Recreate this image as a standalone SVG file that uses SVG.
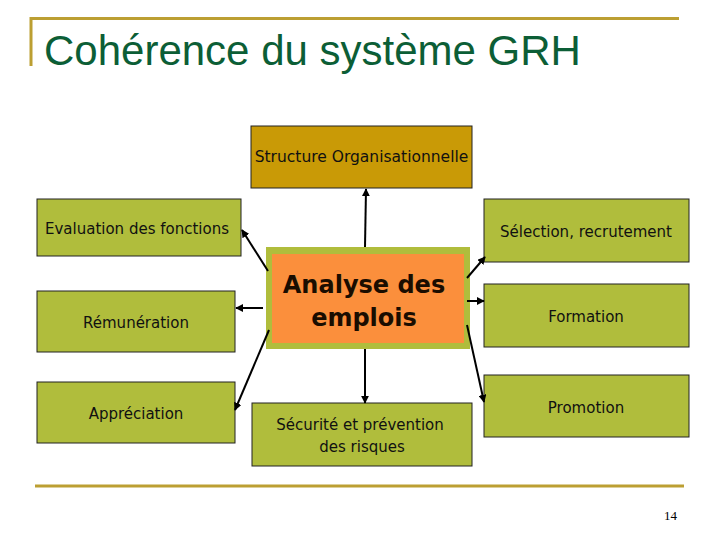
<svg xmlns="http://www.w3.org/2000/svg" width="720" height="540" viewBox="0 0 720 540">
<style>
.box{fill:#b0bd3c;stroke:#222;stroke-width:1}
.lbl{font-family:"DejaVu Sans",Verdana,sans-serif;font-size:15px;fill:#111;text-anchor:middle}
.big{font-size:24px;font-weight:bold;fill:#1a0d00}
.rule{stroke:#bc9f32;fill:none}
.conn{stroke:#000;stroke-width:2;fill:none;marker-end:url(#ah)}
</style>
<defs>
<marker id="ah" viewBox="0 0 10 10" refX="9" refY="5" markerWidth="4" markerHeight="4" orient="auto" markerUnits="strokeWidth">
<path d="M0,0 L10,5 L0,10 z" fill="#000"/>
</marker>
</defs>
<rect width="720" height="540" fill="#fff"/>
<g id="title">
<path class="rule" d="M31,66 V18.5 H679" stroke-width="3"/>
<text x="44" y="65" font-family="'Liberation Sans',Arial,sans-serif" font-size="42" fill="#0c5e36">Cohérence du système GRH</text>
</g>
<g id="footer">
<line class="rule" x1="35" y1="486" x2="684" y2="486" stroke-width="3"/>
<text x="677" y="520" font-family="'Liberation Serif','Times New Roman',serif" font-size="13" fill="#000" text-anchor="end">14</text>
</g>
<g id="structure">
<rect x="251" y="126" width="221" height="62" fill="#c99a06" stroke="#222"/>
<text class="lbl" x="361.5" y="162" style="font-size:15.5px">Structure Organisationnelle</text>
</g>
<g id="evaluation">
<rect class="box" x="37" y="199" width="204" height="57"/>
<text class="lbl" x="137" y="234">Evaluation des fonctions</text>
</g>
<g id="remuneration">
<rect class="box" x="37" y="291" width="198" height="61"/>
<text class="lbl" x="136" y="328">Rémunération</text>
</g>
<g id="appreciation">
<rect class="box" x="37" y="382" width="198" height="61"/>
<text class="lbl" x="136" y="419">Appréciation</text>
</g>
<g id="selection">
<rect class="box" x="484" y="199" width="205" height="63"/>
<text class="lbl" x="586" y="237">Sélection, recrutement</text>
</g>
<g id="formation">
<rect class="box" x="484" y="284" width="205" height="63"/>
<text class="lbl" x="586" y="322">Formation</text>
</g>
<g id="promotion">
<rect class="box" x="484" y="375" width="205" height="62"/>
<text class="lbl" x="586" y="413">Promotion</text>
</g>
<g id="analyse">
<rect x="266" y="247" width="204" height="102" fill="#b0bd3c"/>
<rect x="272" y="254" width="192" height="89" fill="#fb8f3c"/>
<text class="lbl big" x="364" y="293">Analyse des</text>
<text class="lbl big" x="364" y="326">emplois</text>
</g>
<g id="securite">
<rect class="box" x="252" y="403" width="220" height="63"/>
<text class="lbl" x="360" y="430">Sécurité et prévention</text>
<text class="lbl" x="362" y="452">des risques</text>
</g>
<g id="connectors">
<line class="conn" x1="365" y1="247" x2="366" y2="189"/>
<line class="conn" x1="365" y1="349" x2="365" y2="403"/>
<line class="conn" x1="268" y1="271" x2="242" y2="230"/>
<line class="conn" x1="263" y1="308" x2="236" y2="308"/>
<line class="conn" x1="269" y1="330" x2="235" y2="410"/>
<line class="conn" x1="467" y1="278" x2="485" y2="257"/>
<line class="conn" x1="467" y1="301" x2="484" y2="301"/>
<line class="conn" x1="467" y1="325" x2="484" y2="402"/>
</g>
</svg>
